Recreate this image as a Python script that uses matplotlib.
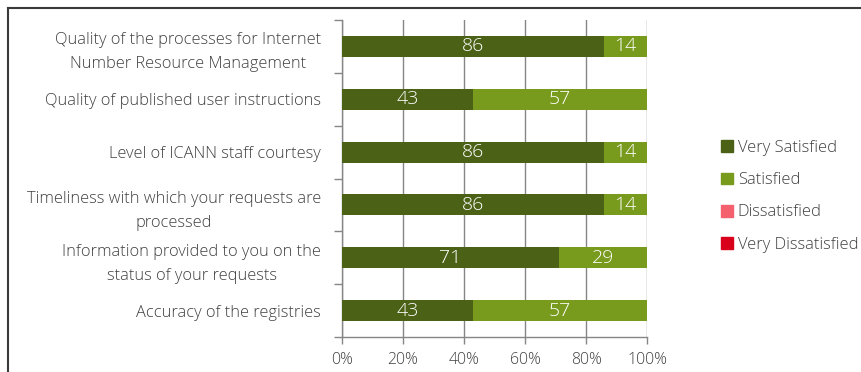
import matplotlib
matplotlib.use("Agg")
import matplotlib.pyplot as plt
from matplotlib.lines import Line2D
import numpy as np

plt.rcParams['font.family'] = ['Open Sans', 'DejaVu Sans']
plt.rcParams['font.weight'] = 'light'

categories = [
    "Quality of the processes for Internet\nNumber Resource Management",
    "Quality of published user instructions",
    "Level of ICANN staff courtesy",
    "Timeliness with which your requests are\nprocessed",
    "Information provided to you on the\nstatus of your requests",
    "Accuracy of the registries",
]
very_satisfied = [86, 43, 86, 86, 71, 43]
satisfied = [14, 57, 14, 14, 29, 57]
dissatisfied = [0, 0, 0, 0, 0, 0]
very_dissatisfied = [0, 0, 0, 0, 0, 0]

series = [
    ("Very Satisfied", very_satisfied, "#4b6115"),
    ("Satisfied", satisfied, "#789a1d"),
    ("Dissatisfied", dissatisfied, "#f4606e"),
    ("Very Dissatisfied", very_dissatisfied, "#d9001b"),
]
xticks = [0, 20, 40, 60, 80, 100]
xtick_labels = ["0%", "20%", "40%", "60%", "80%", "100%"]

W, H = 861, 372
fig = plt.figure(figsize=(W / 100, H / 100), dpi=100)
ax = fig.add_axes([342 / W, 35 / H, 305 / W, 317 / H])

text_color = "#404040"
grid_color = "#868686"

y = np.arange(len(categories))
left = np.zeros(len(categories))
for name, vals, color in series:
    vals = np.array(vals, dtype=float)
    ax.barh(y, vals, left=left, height=0.4, color=color, label=name, zorder=3)
    for yi, (l, v) in enumerate(zip(left, vals)):
        if v > 0:
            ax.text(l + v / 2, yi, f"{int(v)}", ha="center", va="center",
                    color="white", fontsize=14, zorder=4)
    left += vals

ax.set_xlim(0, 100)
ax.set_ylim(len(categories) - 0.5, -0.5)
ax.set_xticks(xticks)
ax.set_xticklabels(xtick_labels, color=text_color, fontsize=11.4)
ax.set_yticks(y)
ax.set_yticklabels(categories, color=text_color, fontsize=11.8,
                   linespacing=1.65, ma="center")
ax.tick_params(axis="y", which="major", length=0, pad=15)
ax.set_yticks(np.arange(-0.5, len(categories), 1.0), minor=True)
ax.tick_params(axis="y", which="minor", length=6, color=grid_color, width=1)
ax.tick_params(axis="x", length=5, color=grid_color, width=1, pad=6)

ax.grid(axis="x", color=grid_color, linewidth=1, zorder=0)
for side in ("top", "right"):
    ax.spines[side].set_visible(False)
for side in ("left", "bottom"):
    ax.spines[side].set_color(grid_color)
    ax.spines[side].set_linewidth(1)

handles = [plt.Rectangle((0, 0), 1, 1, color=c) for _, _, c in series]
fig.legend(handles, [n for n, _, _ in series], loc="upper left",
           bbox_to_anchor=(721 / W, 1 - 140 / H), frameon=False,
           borderpad=0, borderaxespad=0,
           fontsize=11.9, handlelength=0.72, handleheight=0.72,
           handletextpad=0.3, labelspacing=0.98, labelcolor=text_color)

# outer frame
fig.add_artist(Line2D([8 / W, 1], [1 - 8 / H, 1 - 8 / H], color="#3a3a3a", lw=1.5,
                      transform=fig.transFigure))
fig.add_artist(Line2D([8 / W, 8 / W], [0, 1 - 8 / H], color="#3a3a3a", lw=1.5,
                      transform=fig.transFigure))

fig.savefig("out.png", dpi=100)
